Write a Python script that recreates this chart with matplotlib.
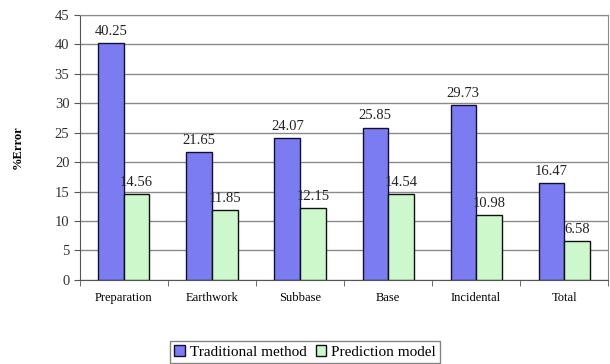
import matplotlib
matplotlib.use("Agg")
import matplotlib.pyplot as plt
import numpy as np

categories = ["Preparation", "Earthwork", "Subbase", "Base", "Incidental", "Total"]
traditional = [40.25, 21.65, 24.07, 25.85, 29.73, 16.47]
prediction = [14.56, 11.85, 12.15, 14.54, 10.98, 6.58]
series_names = ["Traditional method", "Prediction model"]
y_ticks = [0, 5, 10, 15, 20, 25, 30, 35, 40, 45]

serif = ["Liberation Serif", "DejaVu Serif"]
plt.rcParams["font.family"] = serif

fig = plt.figure(figsize=(6.10, 3.64), dpi=100)
ax = fig.add_axes([0.131, 0.231, 0.866, 0.728])

x = np.arange(len(categories))
w = 0.29
b1 = ax.bar(x - w / 2, traditional, w, color="#7b7bf2", edgecolor="#101030", linewidth=1.0,
            label=series_names[0], zorder=3)
b2 = ax.bar(x + w / 2, prediction, w, color="#ccf8cc", edgecolor="#101010", linewidth=1.0,
            label=series_names[1], zorder=3)

for rect, v in zip(list(b1) + list(b2), traditional + prediction):
    ax.text(rect.get_x() + rect.get_width() / 2, v + 0.9, f"{v:.2f}",
            ha="center", va="bottom", fontsize=10.5, color="#222222")

ax.set_xlim(-0.5, len(categories) - 0.5)
ax.set_ylim(0, 45)
ax.set_yticks(y_ticks)
ax.yaxis.grid(True, color="#8a8a8a", linewidth=1.0, zorder=0)
ax.set_axisbelow(True)

ax.set_xticks(x)
ax.set_xticklabels(categories, fontsize=9)
ax.tick_params(axis="x", length=0, pad=9)
ax.set_xticks(np.arange(len(categories) + 1) - 0.5, minor=True)
ax.tick_params(axis="x", which="minor", length=4, color="#555555", direction="out")
ax.tick_params(axis="y", labelsize=10.5, length=4, color="#555555", labelcolor="#333333")

for side in ["top", "right"]:
    ax.spines[side].set_color("#8a8a8a")
ax.spines["left"].set_color("#555555")
ax.spines["bottom"].set_color("#555555")

ax.set_ylabel("%Error", fontsize=9, fontweight="bold", labelpad=22)

leg = fig.legend(handles=[b1, b2], labels=series_names, loc="center",
                 bbox_to_anchor=(0.50, 0.033), ncol=2, fontsize=11,
                 frameon=True, fancybox=False, edgecolor="#666666",
                 handlelength=0.7, handleheight=0.7, handletextpad=0.3,
                 columnspacing=0.6, borderpad=0.3)
for t in leg.get_texts():
    t.set_fontfamily(serif)

fig.savefig("out.png", dpi=100)
